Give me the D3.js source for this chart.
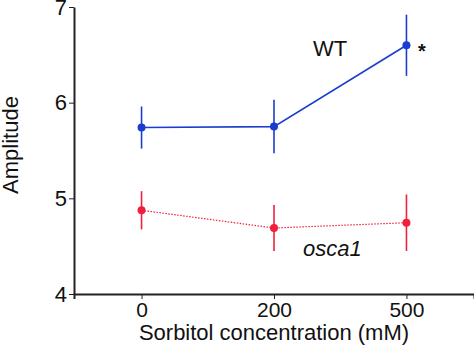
<!DOCTYPE html>
<html><head><meta charset="utf-8">
<script src="https://cdn.jsdelivr.net/npm/d3@7/dist/d3.min.js"></script>
<style>body{margin:0;background:#fff}svg{display:block;font-family:"Liberation Sans",Arial,sans-serif}</style>
</head><body>
<script>
const categories = ["0", "200", "500"];
const wtMean = [5.74, 5.75, 6.60];
const wtErr = [0.22, 0.28, 0.32];
const oscaMean = [4.875, 4.69, 4.745];
const oscaErr = [0.20, 0.24, 0.295];
const yTicks = [4, 5, 6, 7];

const W = 474, H = 345;
const svg = d3.select("body").append("svg").attr("width", W).attr("height", H);
const x = d3.scalePoint().domain(categories).range([74, 474]).padding(0.51);
const y = d3.scaleLinear().domain([4, 7]).range([294, 7]);

const ax = svg.append("g").attr("transform", "translate(0,294)")
  .call(d3.axisBottom(x).tickSize(5).tickPadding(3));
ax.select(".domain").attr("stroke", "#222").attr("stroke-width", 2);
ax.selectAll(".tick line").attr("stroke", "#222").attr("stroke-width", 1);
ax.selectAll(".tick text").attr("font-size", 21).attr("fill", "#111").attr("font-family", "Liberation Sans, Arial, sans-serif");

const ay = svg.append("g").attr("transform", "translate(74,0)")
  .call(d3.axisLeft(y).tickValues(yTicks).tickFormat(d3.format("d")).tickSize(5).tickSizeOuter(0).tickPadding(2));
ay.select(".domain").attr("stroke", "#222").attr("stroke-width", 2);
ay.selectAll(".tick line").attr("stroke", "#222").attr("stroke-width", 1);
ay.selectAll(".tick text").attr("font-size", 22).attr("fill", "#111").attr("font-family", "Liberation Sans, Arial, sans-serif");

svg.append("text").attr("x", 274).attr("y", 340).attr("text-anchor", "middle")
  .attr("font-size", 22).attr("fill", "#111").text("Sorbitol concentration (mM)");
svg.append("text").attr("transform", "translate(18,145) rotate(-90)").attr("text-anchor", "middle")
  .attr("font-size", 22).attr("fill", "#111").text("Amplitude");

function series(mean, err, color, dashed) {
  const data = categories.map((c, i) => ({c, m: mean[i], e: err[i]}));
  const line = d3.line().x(d => x(d.c)).y(d => y(d.m));
  svg.append("path").datum(data).attr("d", line).attr("fill", "none")
    .attr("stroke", color).attr("stroke-width", dashed ? 1.2 : 1.6)
    .attr("stroke-dasharray", dashed ? "1.5,1.5" : null);
  svg.append("g").selectAll("line").data(data).join("line")
    .attr("x1", d => x(d.c)).attr("x2", d => x(d.c))
    .attr("y1", d => y(d.m + d.e)).attr("y2", d => y(d.m - d.e))
    .attr("stroke", color).attr("stroke-width", 1.6);
  svg.append("g").selectAll("circle").data(data).join("circle")
    .attr("cx", d => x(d.c)).attr("cy", d => y(d.m)).attr("r", 4).attr("fill", color);
}
series(wtMean, wtErr, "#1a3dd0", false);
series(oscaMean, oscaErr, "#f0203c", true);

svg.append("text").attr("x", 313).attr("y", 56).attr("font-size", 22).attr("fill", "#111").text("WT");
svg.append("text").attr("x", 418).attr("y", 58).attr("font-size", 20).attr("font-weight", "bold").attr("fill", "#111").text("*");
svg.append("text").attr("x", 303).attr("y", 256).attr("font-size", 22).attr("font-style", "italic").attr("fill", "#111").text("osca1");
</script>
</body></html>
